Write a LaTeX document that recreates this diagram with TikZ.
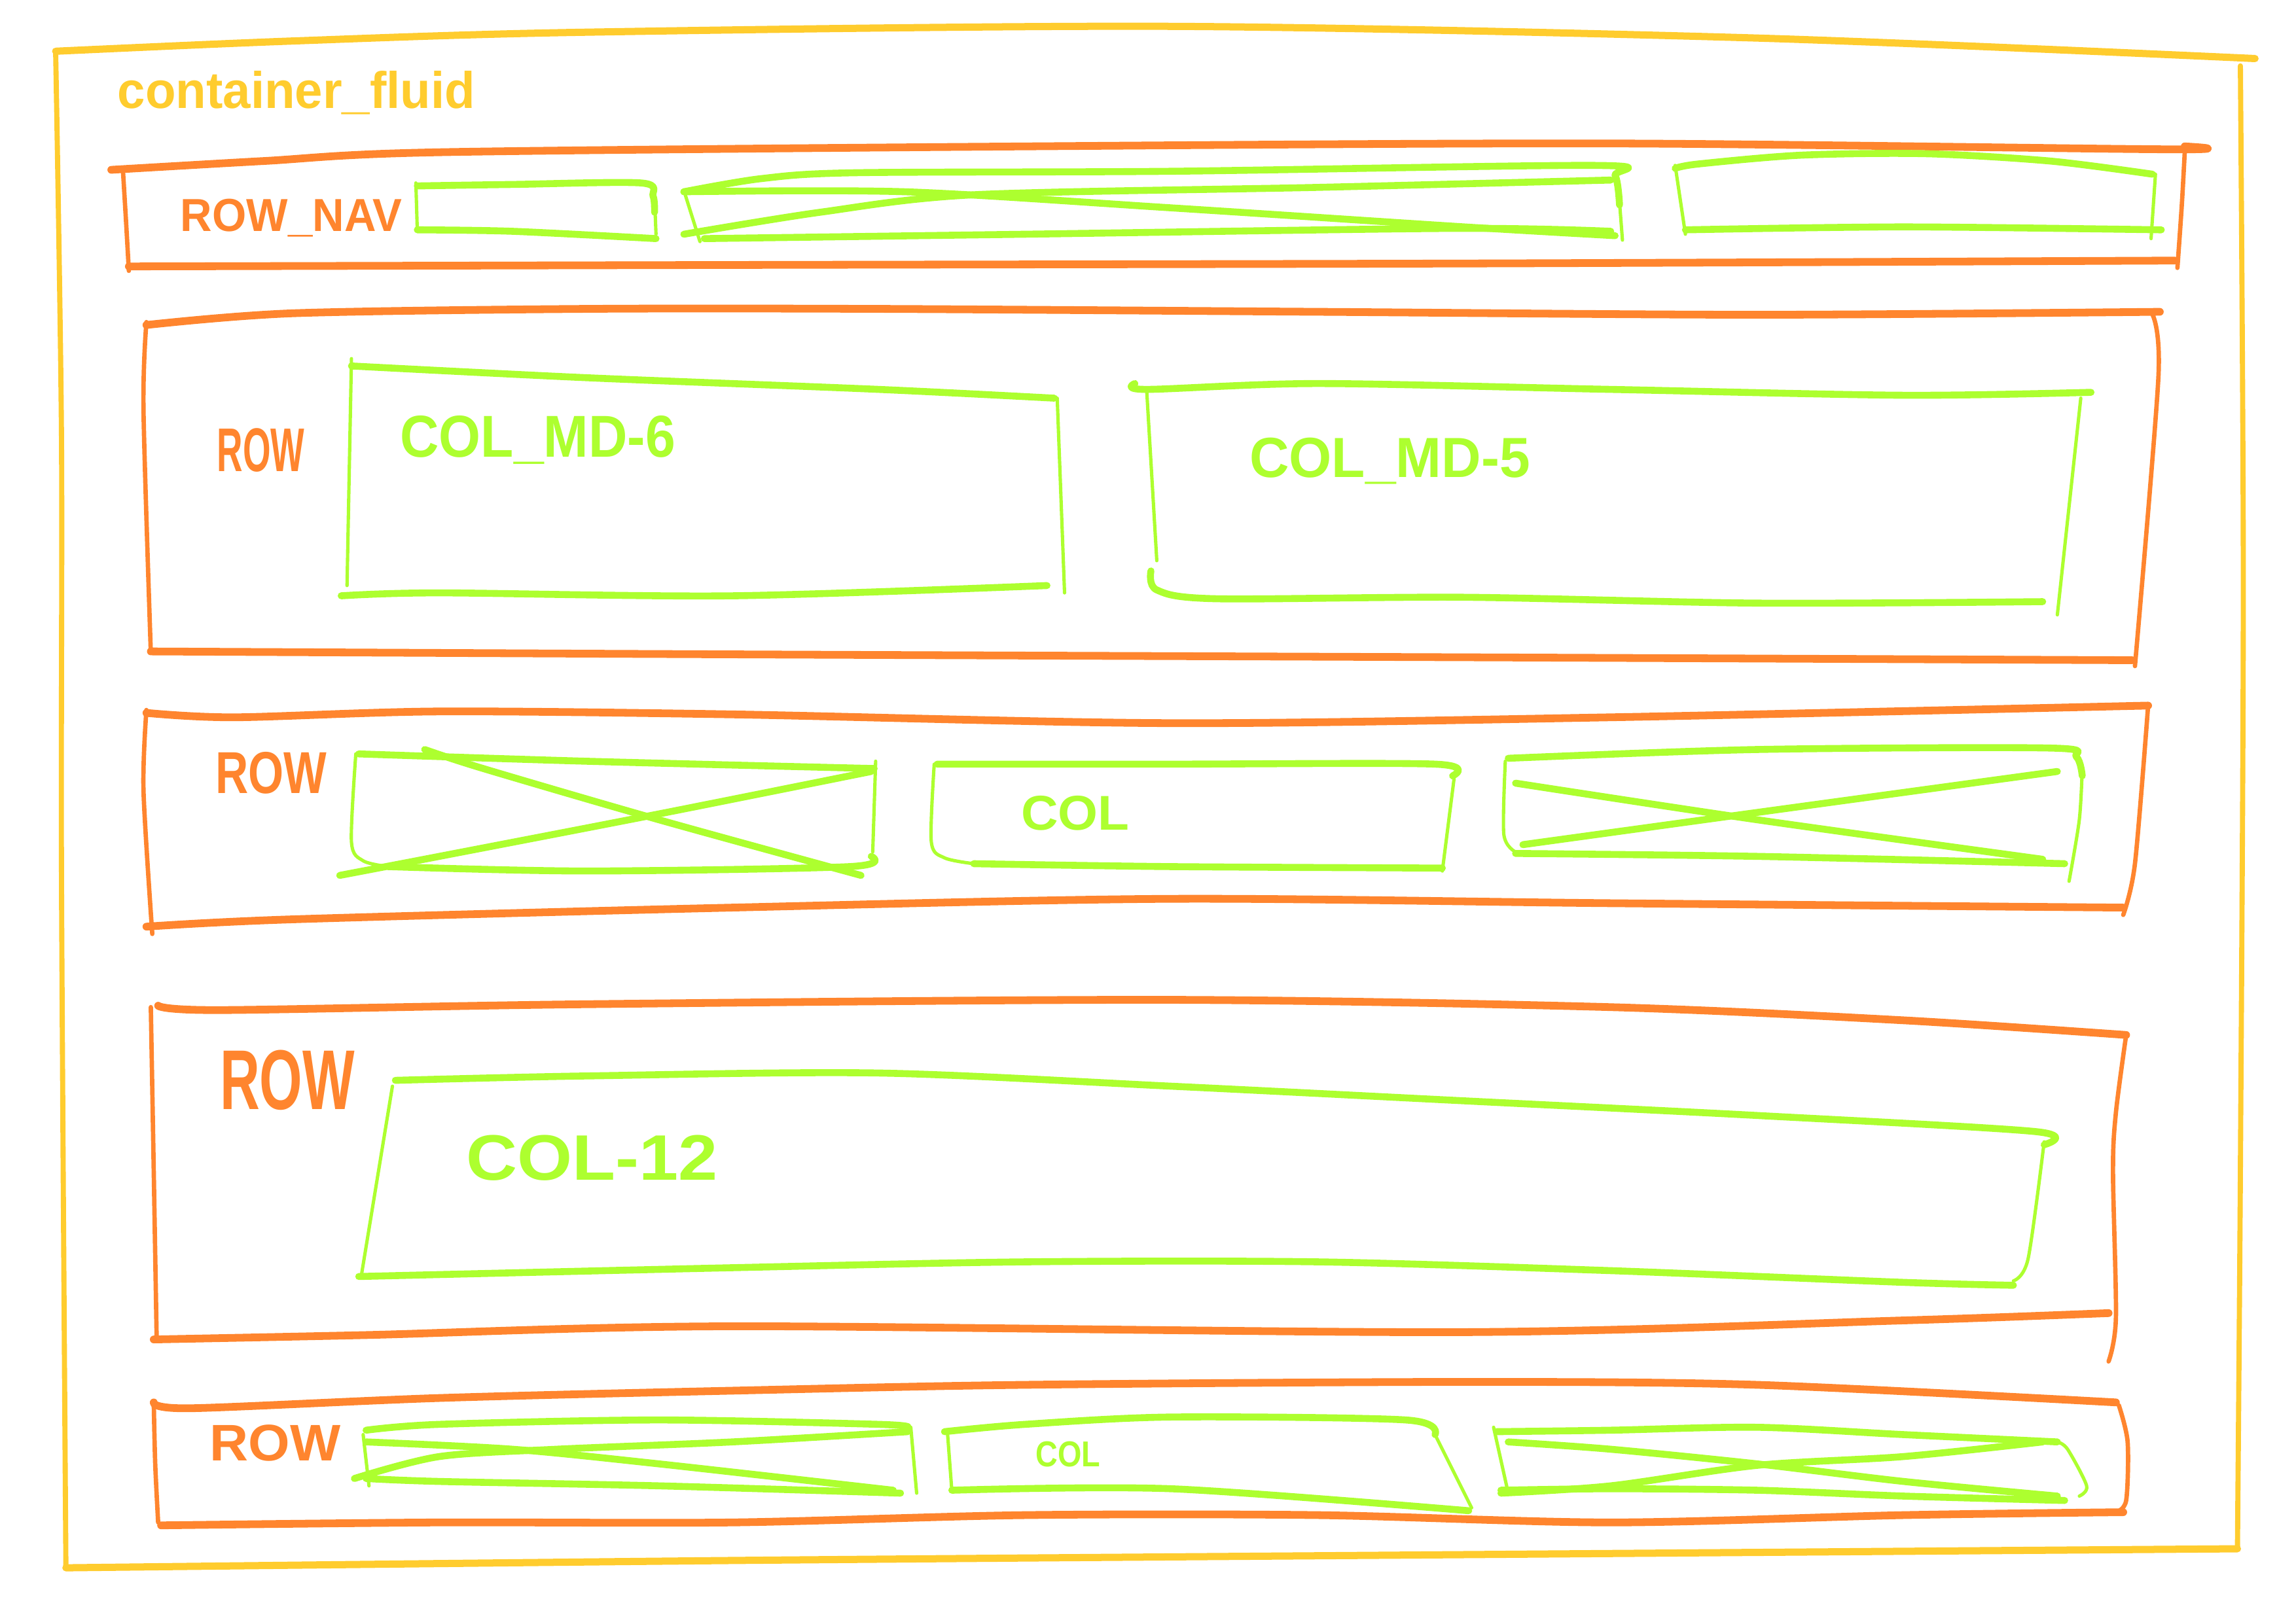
\documentclass[tikz,border=0pt]{standalone}
\usepackage{fontspec}
\setmainfont{Liberation Sans}
\definecolor{cyel}{HTML}{FFCC2E}
\definecolor{corg}{HTML}{FF852E}
\definecolor{cgrn}{HTML}{ADFF2F}
\begin{document}
\begin{tikzpicture}[x=0.02cm,y=-0.02cm,line cap=round,line join=round,
  yh/.style={draw=cyel,line width=2.8pt},
  yv/.style={draw=cyel,line width=2pt},
  oh/.style={draw=corg,line width=3pt},
  ov/.style={draw=corg,line width=1.7pt},
  gh/.style={draw=cgrn,line width=2.7pt},
  gv/.style={draw=cgrn,line width=1.3pt},
  lbl/.style={inner sep=0pt,anchor=base west},
  ylbl/.style={lbl,text=cyel},
  olbl/.style={lbl,text=corg},
  glbl/.style={lbl,text=cgrn}]
\useasboundingbox (0,0) rectangle (1568,1109);

% ---------------- container (yellow)
\draw[yh] plot[smooth,tension=0.5] coordinates {(38,35) (200,28) (400,22) (800,18) (1200,26) (1540,40)};
\draw[yv] plot[smooth,tension=0.5] coordinates {(38,35) (42,300) (42,600) (45,1070)};
\draw[yv] plot[smooth,tension=0.5] coordinates {(1530,45) (1532,400) (1530,800) (1528,1058)};
\draw[yh] plot[smooth,tension=0.5] coordinates {(45,1071) (500,1066) (1000,1062) (1528,1058)};
\node[ylbl,font=\bfseries\fontsize{20}{20}\selectfont,xscale=0.97] (tcf) at (80,74) {container\_fluid};

% ---------------- row_nav
\draw[oh] plot[smooth,tension=0.5] coordinates {(76,116) (180,110) (300,104) (700,100) (1100,98) (1480,102) (1492,100)};
\draw[ov] plot[smooth,tension=0.5] coordinates {(84,117) (86,150) (88,185)};
\draw[ov] plot[smooth,tension=0.5] coordinates {(1492,104) (1490,140) (1487,183)};
\draw[oh] plot[smooth,tension=0.5] coordinates {(88,182) (500,181) (1000,180) (1485,178)};
\node[olbl,font=\bfseries\fontsize{18}{18}\selectfont,xscale=0.95] (tnav) at (123,158) {ROW\_NAV};
% nav box 1
\draw[gh] plot[smooth,tension=0.5] coordinates {(285,127) (350,126) (438,125) (446,134) (447,145)};
\draw[gv] (284,125) -- (285,158);
\draw[gv] (447,135) -- (448,160);
\draw[gh] plot[smooth,tension=0.5] coordinates {(285,157) (350,158) (448,163)};
% nav box 2 (crossed)
\draw[gh] plot[smooth,tension=0.5] coordinates {(467,131) (520,122) (584,118) (800,117) (1090,113) (1103,120) (1106,140)};
\draw[gv] (1105,125) -- (1108,164);
\draw[gv] (467,130) -- (478,165);
\draw[gh] plot[smooth,tension=0.5] coordinates {(467,131) (618,131) (800,142) (1000,155) (1103,161)};
\draw[gh] plot[smooth,tension=0.5] coordinates {(467,160) (560,145) (666,133) (900,128) (1100,123)};
\draw[gh] plot[smooth,tension=0.5] coordinates {(481,163) (700,160) (994,156) (1100,158)};
% nav box 3
\draw[gh] plot[smooth,tension=0.5] coordinates {(1144,115) (1160,112) (1230,106) (1315,105) (1400,110) (1470,119)};
\draw[gv] (1144,113) -- (1151,160);
\draw[gv] (1472,119) -- (1469,163);
\draw[gh] plot[smooth,tension=0.5] coordinates {(1151,157) (1300,155) (1476,157)};

% ---------------- row 2
\draw[oh] plot[smooth,tension=0.5] coordinates {(100,222) (200,214) (400,211) (600,211) (900,213) (1200,215) (1475,213)};
\draw[ov] plot[smooth,tension=0.5] coordinates {(100,220) (98,280) (103,446)};
\draw[ov] plot[smooth,tension=0.5] coordinates {(1470,215) (1474,258) (1458,455)};
\draw[oh] plot[smooth,tension=0.5] coordinates {(103,445) (500,447) (1000,449) (1456,451)};
\node[olbl,font=\bfseries\fontsize{24}{24}\selectfont,xscale=0.58] (tr2) at (148,322) {ROW};
% col-md-6
\draw[gh] plot[smooth,tension=0.5] coordinates {(240,250) (400,258) (600,266) (720,272)};
\draw[gv] (240,245) -- (237,400);
\draw[gv] (722,272) -- (727,405);
\draw[gh] plot[smooth,tension=0.5] coordinates {(233,407) (300,405) (500,407) (715,400)};
\node[glbl,font=\bfseries\fontsize{23}{23}\selectfont,xscale=0.91] (tmd6) at (273,312) {COL\_MD-6};
% col-md-5
\draw[gh] plot[smooth,tension=0.5] coordinates {(775,262) (783,266) (900,262) (1100,266) (1300,270) (1428,268)};
\draw[gv] (783,265) -- (790,383);
\draw[gv] (1421,272) -- (1405,420);
\draw[gh] plot[smooth,tension=0.5] coordinates {(786,390) (790,403) (830,409) (1000,408) (1200,412) (1395,411)};
\node[glbl,font=\bfseries\fontsize{22}{22}\selectfont,xscale=0.97] (tmd5) at (853,326) {COL\_MD-5};

% ---------------- row 3
\draw[oh] plot[smooth,tension=0.5] coordinates {(100,487) (160,490) (300,486) (500,488) (800,494) (1100,490) (1467,482)};
\draw[ov] plot[smooth,tension=0.5] coordinates {(100,485) (98,540) (104,638)};
\draw[ov] plot[smooth,tension=0.5] coordinates {(1467,482) (1458,590) (1450,625)};
\draw[oh] plot[smooth,tension=0.5] coordinates {(100,633) (200,628) (500,620) (800,614) (1100,617) (1450,620)};
\node[olbl,font=\bfseries\fontsize{23}{23}\selectfont,xscale=0.77] (tr3) at (147,542) {ROW};
% crossed box 1
\draw[gh] plot[smooth,tension=0.5] coordinates {(245,515) (400,520) (597,525)};
\draw[gv] plot[smooth,tension=0.5] coordinates {(243,515) (240,575) (248,588) (265,592)};
\draw[gh] plot[smooth,tension=0.5] coordinates {(265,592) (400,595) (580,592) (595,585)};
\draw[gv] (598,520) -- (596,582);
\draw[gh] plot[smooth,tension=0.5] coordinates {(290,512) (330,525) (450,560) (588,598)};
\draw[gh] plot[smooth,tension=0.5] coordinates {(232,598) (300,585) (450,556) (595,527)};
% col box
\draw[gh] plot[smooth,tension=0.5] coordinates {(640,522) (800,522) (980,522) (992,530)};
\draw[gv] (993,532) -- (985,595);
\draw[gv] plot[smooth,tension=0.5] coordinates {(638,522) (636,575) (645,586) (665,590)};
\draw[gh] plot[smooth,tension=0.5] coordinates {(665,590) (800,592) (985,593)};
\node[glbl,font=\bfseries\fontsize{19}{19}\selectfont,xscale=1.05] (tc3) at (697,567) {COL};
% crossed box 3
\draw[gh] plot[smooth,tension=0.5] coordinates {(1030,518) (1200,512) (1400,511) (1418,517) (1422,530)};
\draw[gv] plot[smooth,tension=0.5] coordinates {(1422,525) (1420,560) (1413,602)};
\draw[gv] plot[smooth,tension=0.5] coordinates {(1028,520) (1027,570) (1035,582)};
\draw[gh] plot[smooth,tension=0.5] coordinates {(1035,583) (1200,585) (1410,590)};
\draw[gh] plot[smooth,tension=0.5] coordinates {(1035,535) (1200,560) (1395,587)};
\draw[gh] plot[smooth,tension=0.5] coordinates {(1040,577) (1200,555) (1405,527)};

% ---------------- row 4
\draw[oh] plot[smooth,tension=0.5] coordinates {(108,687) (150,690) (400,686) (800,683) (1100,688) (1300,697) (1452,707)};
\draw[ov] plot[smooth,tension=0.5] coordinates {(103,688) (105,800) (107,915)};
\draw[ov] plot[smooth,tension=0.5] coordinates {(1452,707) (1445,760) (1443,800) (1445,900) (1440,930)};
\draw[oh] plot[smooth,tension=0.5] coordinates {(105,915) (250,912) (500,906) (1000,910) (1300,902) (1440,897)};
\node[olbl,font=\bfseries\fontsize{33}{33}\selectfont,xscale=0.65] (tr4) at (150,758) {ROW};
% col-12
\draw[gh] plot[smooth,tension=0.5] coordinates {(270,738) (400,735) (600,733) (800,742) (1000,752) (1200,762) (1390,773) (1396,782)};
\draw[gv] plot[smooth,tension=0.5] coordinates {(1396,780) (1385,860) (1375,875)};
\draw[gv] (268,742) -- (247,870);
\draw[gh] plot[smooth,tension=0.5] coordinates {(245,872) (500,866) (700,862) (900,862) (1100,868) (1300,876) (1375,878)};
\node[glbl,font=\bfseries\fontsize{25}{25}\selectfont,xscale=1.1] (tc12) at (318,806) {COL-12};

% ---------------- row 5
\draw[oh] plot[smooth,tension=0.5] coordinates {(105,958) (130,962) (300,955) (500,950) (700,946) (1000,944) (1200,946) (1445,958)};
\draw[ov] plot[smooth,tension=0.5] coordinates {(105,958) (106,1000) (108,1040)};
\draw[ov] plot[smooth,tension=0.5] coordinates {(1447,960) (1453,985) (1452,1025) (1445,1033)};
\draw[oh] plot[smooth,tension=0.5] coordinates {(110,1042) (300,1040) (500,1040) (700,1035) (900,1035) (1100,1040) (1300,1035) (1450,1033)};
\node[olbl,font=\bfseries\fontsize{20}{20}\selectfont,xscale=1.04] (tr5) at (143,998) {ROW};
% crossed box 1
\draw[gh] plot[smooth,tension=0.5] coordinates {(250,977) (300,973) (450,970) (600,973) (620,975)};
\draw[gv] (622,975) -- (626,1020);
\draw[gh] plot[smooth,tension=0.5] coordinates {(250,1010) (300,1012) (450,1015) (615,1020)};
\draw[gv] (248,980) -- (252,1015);
\draw[gh] plot[smooth,tension=0.5] coordinates {(250,985) (350,990) (450,1000) (610,1018)};
\draw[gh] plot[smooth,tension=0.5] coordinates {(242,1010) (300,995) (380,990) (500,985) (620,978)};
% col box
\draw[gh] plot[smooth,tension=0.5] coordinates {(645,978) (700,973) (800,968) (960,970) (980,980)};
\draw[gv] (980,980) -- (1005,1030);
\draw[gh] plot[smooth,tension=0.5] coordinates {(650,1018) (800,1017) (1003,1032)};
\draw[gv] (647,978) -- (650,1018);
\node[glbl,font=\bfseries\fontsize{14}{14}\selectfont,xscale=0.85] (tc5) at (707,1002) {COL};
% crossed box 3
\draw[gh] plot[smooth,tension=0.5] coordinates {(1022,978) (1100,977) (1200,975) (1300,980) (1405,985)};
\draw[gv] plot[smooth,tension=0.5] coordinates {(1405,985) (1412,990) (1425,1015) (1420,1022)};
\draw[gh] plot[smooth,tension=0.5] coordinates {(1025,1018) (1100,1017) (1200,1018) (1300,1022) (1410,1025)};
\draw[gv] (1020,975) -- (1030,1020);
\draw[gh] plot[smooth,tension=0.5] coordinates {(1030,985) (1100,990) (1200,1000) (1300,1012) (1405,1022)};
\draw[gh] plot[smooth,tension=0.5] coordinates {(1025,1020) (1100,1015) (1200,1001) (1300,995) (1395,985)};
\end{tikzpicture}
\end{document}
